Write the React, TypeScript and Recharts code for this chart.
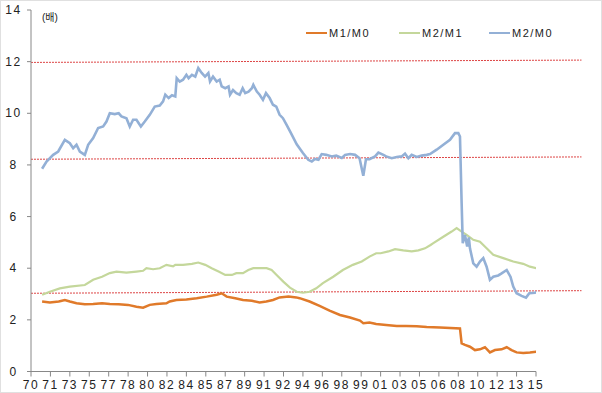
import React from 'react'
import { LineChart, Line, XAxis, YAxis, ReferenceLine } from 'recharts'

// M2/M0
const m2m0Years = [
  1971.0, 1971.4, 1972.0, 1972.45, 1973.05, 1973.5, 1973.8, 1974.1, 1974.4, 1974.85,
  1975.15, 1975.6, 1976.05, 1976.5, 1976.8, 1977.1, 1977.55, 1977.9, 1978.15, 1978.6,
  1978.9, 1979.2, 1979.5, 1979.9, 1980.25, 1980.7, 1981.15, 1981.6, 1981.9, 1982.1,
  1982.4, 1982.7, 1983.0, 1983.13, 1983.4, 1983.7, 1984.0, 1984.2, 1984.5, 1984.8,
  1985.07, 1985.38, 1985.68, 1985.98, 1986.13, 1986.4, 1986.73, 1987.0, 1987.18, 1987.5,
  1987.8, 1987.93, 1988.2, 1988.5, 1988.8, 1989.07, 1989.3, 1989.6, 1989.9, 1990.03,
  1990.35, 1990.6, 1990.9, 1991.17, 1991.5, 1991.8, 1992.1, 1992.4, 1992.7, 1993.03,
  1993.4, 1993.94, 1994.5, 1994.98, 1995.3, 1995.58, 1995.9, 1996.19, 1996.6, 1997.1,
  1997.5, 1998.0, 1998.3, 1998.75, 1999.2, 1999.6, 1999.94, 2000.18, 2000.5, 2001.0,
  2001.3, 2001.75, 2002.0, 2002.5, 2002.95, 2003.4, 2003.7, 2004.0, 2004.3, 2004.75,
  2005.2, 2005.65, 2005.95, 2006.55, 2007.15, 2007.75, 2008.2, 2008.5, 2008.65, 2008.8,
  2008.9, 2009.1, 2009.3, 2009.45, 2009.55, 2009.85, 2010.15, 2010.45, 2010.75, 2011.05,
  2011.35, 2011.65, 2012.1, 2012.4, 2012.86, 2013.2, 2013.45, 2013.75, 2014.2, 2014.6,
  2014.9, 2015.4, 2015.6,
]
const m2m0Values = [
  7.85, 8.13, 8.39, 8.52, 8.97, 8.84, 8.65, 8.78, 8.52, 8.39,
  8.78, 9.04, 9.43, 9.49, 9.68, 10.0, 9.97, 10.0, 9.88, 9.81,
  9.49, 9.75, 9.75, 9.49, 9.68, 9.94, 10.26, 10.3, 10.46, 10.72,
  10.59, 10.7, 10.65, 11.36, 11.23, 11.3, 11.49, 11.36, 11.49, 11.42,
  11.75, 11.56, 11.42, 11.56, 11.23, 11.42, 11.23, 11.3, 11.04, 10.97,
  11.04, 10.72, 10.9, 10.78, 10.72, 10.97, 10.78, 10.84, 10.97, 11.1,
  10.84, 10.72, 10.52, 10.78, 10.59, 10.33, 10.26, 9.94, 9.81, 9.55,
  9.25, 8.8, 8.46, 8.2, 8.13, 8.23, 8.2, 8.42, 8.39, 8.33,
  8.36, 8.27, 8.39, 8.42, 8.39, 8.26, 7.58, 8.22, 8.22, 8.33,
  8.48, 8.39, 8.33, 8.26, 8.31, 8.33, 8.44, 8.26, 8.39, 8.31,
  8.36, 8.39, 8.42, 8.59, 8.78, 8.97, 9.23, 9.23, 9.1, 6.52,
  4.97, 5.29, 4.84, 5.19, 4.77, 4.19, 4.06, 4.26, 4.39, 4.06,
  3.55, 3.67, 3.72, 3.8, 3.93, 3.67, 3.29, 3.03, 2.93, 2.86,
  3.03, 3.05, 3.09,
]

// M2/M1
const m2m1Years = [
  1971.0, 1971.7, 1972.6, 1973.5, 1974.85, 1975.6, 1976.4, 1977.1, 1977.7, 1978.6,
  1979.5, 1980.1, 1980.4, 1981.0, 1981.6, 1982.2, 1982.8, 1983.0, 1983.7, 1984.5,
  1985.07, 1985.7, 1986.28, 1986.9, 1987.5, 1988.1, 1988.5, 1989.1, 1989.58, 1990.03,
  1990.6, 1991.23, 1991.68, 1992.13, 1992.73, 1993.33, 1993.94, 1994.5, 1995.1, 1995.7,
  1996.3, 1997.23, 1998.1, 1999.0, 1999.8, 2000.5, 2001.1, 2001.5, 2002.2, 2002.8,
  2003.54, 2004.3, 2004.9, 2005.5, 2006.0, 2006.25, 2007.15, 2007.9, 2008.35, 2008.8,
  2009.25, 2009.85, 2010.45, 2011.05, 2011.65, 2012.55, 2013.45, 2014.35, 2014.95, 2015.55,
]
const m2m1Values = [
  2.97, 3.09, 3.22, 3.29, 3.35, 3.55, 3.67, 3.81, 3.87, 3.83,
  3.87, 3.9, 4.0, 3.96, 4.0, 4.13, 4.07, 4.13, 4.13, 4.17,
  4.22, 4.13, 4.0, 3.87, 3.74, 3.74, 3.81, 3.81, 3.93, 4.0,
  4.0, 4.0, 3.93, 3.74, 3.48, 3.25, 3.09, 3.05, 3.09, 3.22,
  3.42, 3.67, 3.93, 4.13, 4.26, 4.45, 4.58, 4.58, 4.65, 4.74,
  4.69, 4.65, 4.69, 4.77, 4.9, 4.97, 5.22, 5.42, 5.55, 5.42,
  5.29, 5.1, 5.03, 4.77, 4.52, 4.39, 4.26, 4.17, 4.06, 4.0,
]

// M1/M0
const m1m0Years = [
  1971.0, 1971.7, 1972.5, 1973.05, 1973.5, 1974.1, 1974.85, 1975.6, 1976.4, 1977.1,
  1977.9, 1978.75, 1979.5, 1980.1, 1980.7, 1981.3, 1982.2, 1982.5, 1983.1, 1984.0,
  1984.93, 1985.83, 1986.73, 1987.18, 1987.63, 1988.4, 1989.1, 1989.9, 1990.6, 1991.2,
  1991.8, 1992.4, 1993.2, 1993.9, 1994.2, 1995.1, 1996.0, 1996.9, 1997.84, 1998.74,
  1999.64, 1999.94, 2000.5, 2001.1, 2002.0, 2002.95, 2003.8, 2004.75, 2005.65, 2006.85,
  2008.65, 2008.8, 2009.1, 2009.55, 2010.0, 2010.45, 2010.9, 2011.35, 2011.8, 2012.4,
  2012.86, 2013.3, 2013.75, 2014.35, 2014.95, 2015.55,
]
const m1m0Values = [
  2.71, 2.67, 2.71, 2.77, 2.71, 2.64, 2.6, 2.61, 2.64, 2.61,
  2.6, 2.58, 2.51, 2.47, 2.58, 2.61, 2.64, 2.71, 2.77, 2.79,
  2.84, 2.9, 2.97, 3.03, 2.9, 2.84, 2.77, 2.74, 2.67, 2.71,
  2.77, 2.87, 2.9, 2.87, 2.84, 2.71, 2.54, 2.36, 2.19, 2.09,
  1.97, 1.87, 1.9, 1.84, 1.8, 1.76, 1.76, 1.75, 1.72, 1.7,
  1.67, 1.09, 1.03, 0.96, 0.83, 0.86, 0.94, 0.74, 0.83, 0.86,
  0.94, 0.83, 0.74, 0.72, 0.74, 0.77,
]

const xTicks = [
  1970, 1971.75, 1973.5, 1975.25, 1977, 1978.75, 1980.5, 1982.25, 1984, 1985.75,
  1987.5, 1989.25, 1991, 1992.75, 1994.5, 1996.25, 1998, 1999.75, 2001.5, 2003.25,
  2005, 2006.75, 2008.5, 2010.25, 2012, 2013.75, 2015.5,
]
const xTickLabels = [
  '70', '71', '73', '75', '77', '78', '80', '82', '84', '85',
  '87', '89', '91', '92', '94', '96', '98', '99', '01', '03',
  '05', '06', '08', '10', '12', '13', '15',
]
const yTicks = [0, 2, 4, 6, 8, 10, 12, 14]

// dotted red guide lines (slightly tilted in the original)
const guideLines = [
  { from: 11.97, to: 12.06 },
  { from: 8.22, to: 8.31 },
  { from: 3.03, to: 3.13 },
]

const series = [
  { name: 'M1/M0', years: m1m0Years, values: m1m0Values, color: '#E07A2A', width: 2.5 },
  { name: 'M2/M1', years: m2m1Years, values: m2m1Values, color: '#C4D79B', width: 2.2 },
  { name: 'M2/M0', years: m2m0Years, values: m2m0Values, color: '#93B0D6', width: 2.6 },
]

const FONT = '"Liberation Sans", Arial, "Noto Sans CJK KR", sans-serif'

const YTick = ({ y, payload }: any) => (
  <text x={13.5} y={y} dy={4} textAnchor="middle" fontSize={12} fill="#222" fontFamily={FONT} letterSpacing={1.5}>
    {payload.value}
  </text>
)

const XTick = ({ x, y, payload }: any) => {
  const idx = xTicks.indexOf(payload.value)
  return (
    <text x={x} y={y} dy={9.5} textAnchor="middle" fontSize={12} fill="#222" fontFamily={FONT} letterSpacing={1.5}>
      {idx >= 0 ? xTickLabels[idx] : ''}
    </text>
  )
}

const legendPos = [306, 399, 489]

export default function App() {
  return (
    <div style={{ position: 'absolute', left: 0, top: 0, width: 602, height: 393, background: '#fff', fontFamily: FONT, overflow: 'hidden' }}>
      <LineChart width={602} height={393} margin={{ top: 10, right: 66, left: 0, bottom: 0 }}>
        <XAxis
          type="number"
          dataKey="t"
          domain={[1970, 2015.5]}
          ticks={xTicks}
          interval={0}
          height={21.5}
          tickSize={5}
          tickMargin={3}
          stroke="#888"
          tick={<XTick />}
          allowDataOverflow
        />
        <YAxis
          type="number"
          domain={[0, 14]}
          ticks={yTicks}
          interval={0}
          width={31}
          tickSize={4}
          stroke="#888"
          tick={<YTick />}
        />
        {guideLines.map((g, i) => (
          <ReferenceLine
            key={i}
            segment={[{ x: 1970, y: g.from }, { x: 2019.6, y: g.to }]}
            stroke="#DD4444"
            strokeWidth={1}
            strokeDasharray="2 1"
            ifOverflow="visible"
          />
        ))}
        {series.map((s) => (
          <Line
            key={s.name}
            data={s.years.map((t, i) => ({ t, v: s.values[i] }))}
            dataKey="v"
            name={s.name}
            stroke={s.color}
            strokeWidth={s.width}
            dot={false}
            activeDot={false}
            isAnimationActive={false}
            type="linear"
          />
        ))}
      </LineChart>
      <div style={{ position: 'absolute', left: 42, top: 9, fontSize: 10, color: '#222' }}>(배)</div>
      {series.map((s, i) => (
        <div key={s.name} style={{ position: 'absolute', left: legendPos[i], top: 26, display: 'flex', alignItems: 'center', height: 14 }}>
          <div style={{ width: 21, height: 2.5, background: s.color }} />
          <span style={{ marginLeft: 2, fontSize: 11, letterSpacing: 1.5, color: '#222' }}>{s.name}</span>
        </div>
      ))}
      <div style={{ position: 'absolute', inset: 0, border: '1px solid #e0e0e0', pointerEvents: 'none' }} />
    </div>
  )
}
